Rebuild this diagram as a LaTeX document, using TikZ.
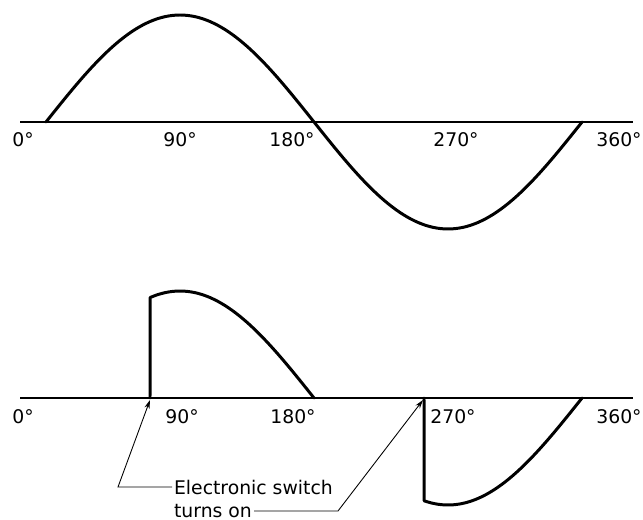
\documentclass[tikz,border=0pt]{standalone}
\usepackage{fontspec}
\setmainfont{DejaVu Sans}
\usetikzlibrary{arrows.meta, positioning}

\begin{document}
\begin{tikzpicture}[x=0.02cm, y=-0.02cm,
   ax/.style={line width=1.5pt},
   wave/.style={line width=1.7pt, line join=round, line cap=round},
   deg/.style={font=\fontsize{10.7}{13}\selectfont, inner sep=1pt},
   lead/.style={line width=0.5pt, -{Stealth[length=5pt, width=3pt]}}]
  \useasboundingbox (0,0) rectangle (643,520);
  % upper trace: the full sine wave
  \draw[ax] (20,122) -- (633,122);
  \draw[wave] plot[domain=0:360, samples=73, smooth] ({46+1.489*\x}, {122-107*sin(\x)});
  \foreach \d/\xx in {0/23, 90/180, 180/292, 270/456, 360/619}
     \node[deg] (up\d) at (\xx,140) {\d°};
  % lower trace: what the switch lets through
  \draw[ax] (20,398) -- (633,398);
  \draw[wave] (150,398) -- plot[domain=70:180, samples=23, smooth] ({46+1.489*\x}, {398-107*sin(\x)});
  \draw[wave] (424,398) -- plot[domain=254:360, samples=23, smooth] ({46+1.489*\x}, {398-107*sin(\x)});
  \foreach \d/\xx in {0/23, 90/182, 180/293, 270/453, 360/619}
     \node[deg] (lo\d) at (\xx,417) {\d°};
  % callout
  \node[deg, anchor=west] (sw1) at (172,487) {Electronic switch};
  \node[deg, anchor=west] (sw2) at (172,511) {turns on};
  \coordinate (tipA) at (150,400);  \coordinate (bendA) at (118,487);
  \coordinate (tipB) at (423,400);  \coordinate (bendB) at (338,511);
  \draw[lead] (sw1.west) -- (bendA) -- (tipA);
  \draw[lead] (sw2.east) -- (bendB) -- (tipB);
\end{tikzpicture}
\end{document}
